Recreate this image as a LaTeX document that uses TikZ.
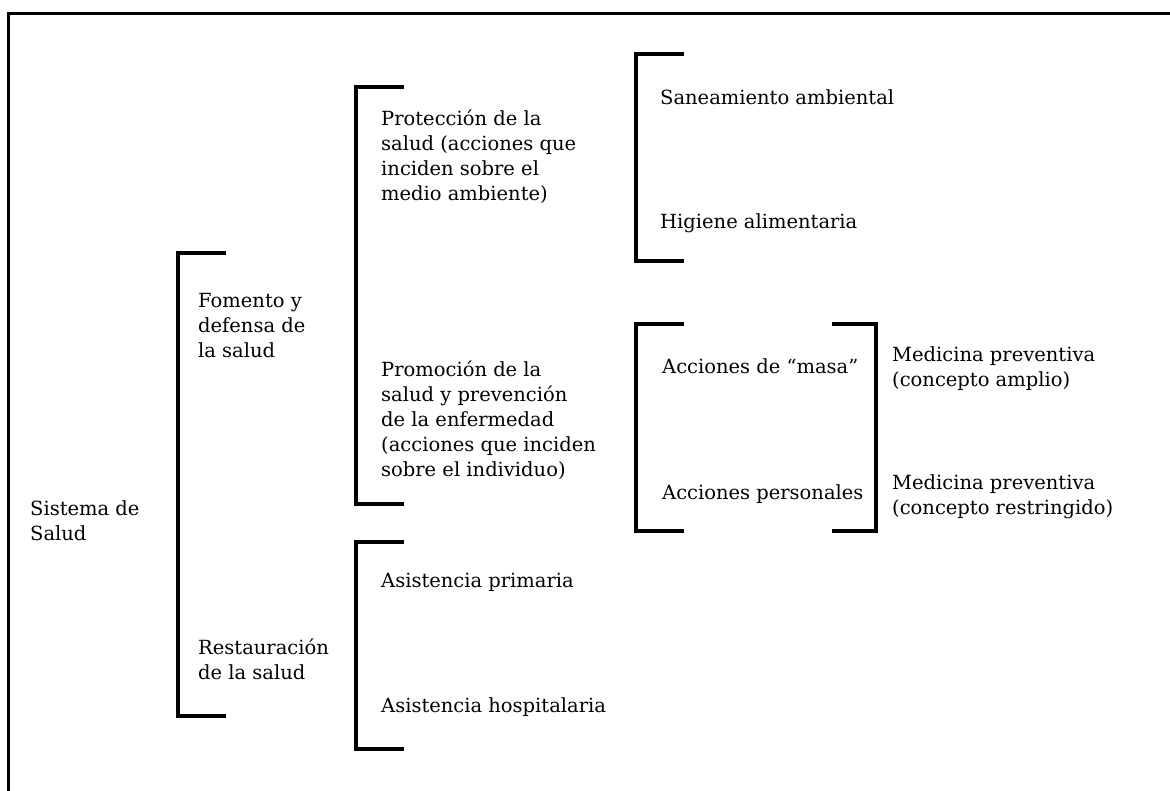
\documentclass[tikz,border=0pt]{standalone}
\usepackage{fontspec}
\setmainfont{DejaVu Serif}
\begin{document}
\begin{tikzpicture}[x=1pt,y=-1pt,
  % multi-line labels are anchored at the baseline of their last line
  txt/.style={anchor=base west, align=left, inner sep=0pt,
    font=\fontsize{19.5}{24.8}\selectfont},
  brk/.style={line width=3.2pt, line cap=butt, line join=miter},
  frame/.style={line width=3pt}]
\useasboundingbox (0,0) rectangle (1170,790);
\fill[white] (0,0) rectangle (1170,790);
% outer frame (top and left edges)
\draw[frame] (1180,13) -- (8.5,13) -- (8.5,800);

% brackets
\draw[brk] (226,253) -- (178,253) -- (178,716) -- (226,716);
\draw[brk] (404,87) -- (356,87) -- (356,504) -- (404,504);
\draw[brk] (404,542) -- (356,542) -- (356,749) -- (404,749);
\draw[brk] (684,54) -- (636,54) -- (636,261) -- (684,261);
\draw[brk] (684,324) -- (636,324) -- (636,531) -- (684,531);
\draw[brk] (832,324) -- (876,324) -- (876,531) -- (832,531);

% labels
\node[txt] (sis) at (30,540) {Sistema de\\Salud};
\node[txt] (fom) at (198,357) {Fomento y\\defensa de\\la salud};
\node[txt] (res) at (198,679) {Restauración\\de la salud};
\node[txt] (pro) at (381,200) {Protección de la\\salud (acciones que\\inciden sobre el\\medio ambiente)};
\node[txt] (prm) at (381,476) {Promoción de la\\salud y prevención\\de la enfermedad\\(acciones que inciden\\sobre el individuo)};
\node[txt] (apr) at (381,587) {Asistencia primaria};
\node[txt] (aho) at (381,712) {Asistencia hospitalaria};
\node[txt] (san) at (660,104) {Saneamiento ambiental};
\node[txt] (hig) at (660,228) {Higiene alimentaria};
\node[txt] (mas) at (662,373) {Acciones de “masa”};
\node[txt] (per) at (662,499) {Acciones personales};
\node[txt] (mpa) at (892,386) {Medicina preventiva\\(concepto amplio)};
\node[txt] (mpr) at (892,514) {Medicina preventiva\\(concepto restringido)};
\end{tikzpicture}
\end{document}
